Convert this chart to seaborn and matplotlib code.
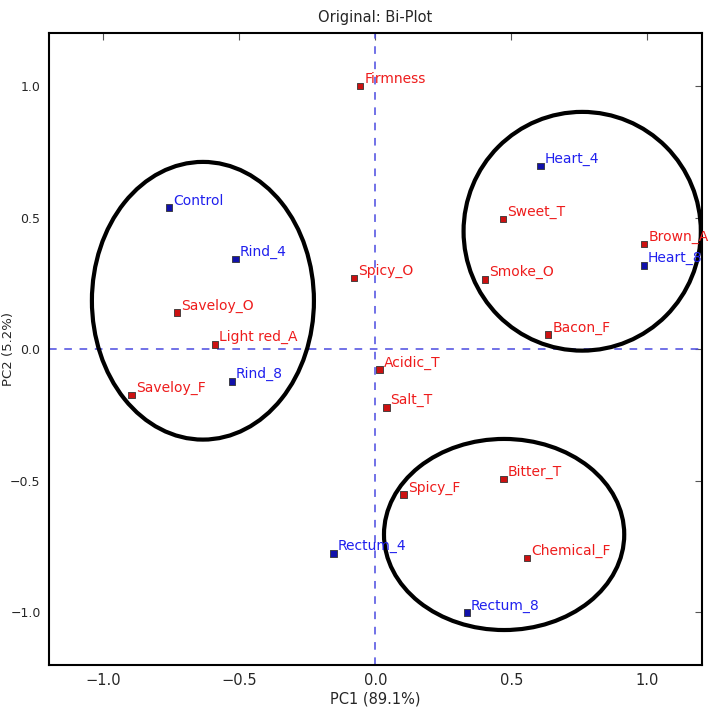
import matplotlib
matplotlib.use("Agg")
import matplotlib.pyplot as plt
from matplotlib.patches import Ellipse
import seaborn as sns
import pandas as pd

# ---- data ----
names = ["Firmness", "Control", "Rind_4", "Saveloy_O", "Light red_A", "Rind_8",
         "Saveloy_F", "Spicy_O", "Acidic_T", "Salt_T", "Heart_4", "Sweet_T",
         "Smoke_O", "Bacon_F", "Brown_A", "Heart_8", "Bitter_T", "Spicy_F",
         "Rectum_4", "Chemical_F", "Rectum_8"]
pc1 = [-0.056, -0.758, -0.514, -0.729, -0.590, -0.528,
       -0.896, -0.079, 0.015, 0.040, 0.606, 0.469,
       0.403, 0.635, 0.988, 0.987, 0.470, 0.104,
       -0.154, 0.557, 0.336]
pc2 = [1.000, 0.538, 0.343, 0.139, 0.018, -0.122,
       -0.174, 0.271, -0.078, -0.221, 0.696, 0.495,
       0.265, 0.055, 0.399, 0.318, -0.493, -0.553,
       -0.776, -0.794, -1.001]
kind = ["attribute", "sample", "sample", "attribute", "attribute", "sample",
        "attribute", "attribute", "attribute", "attribute", "sample", "attribute",
        "attribute", "attribute", "attribute", "sample", "attribute", "attribute",
        "sample", "attribute", "sample"]
xticks = [-1.0, -0.5, 0.0, 0.5, 1.0]
yticks = [-1.0, -0.5, 0.0, 0.5, 1.0]
title = "Original: Bi-Plot"
xlabel = "PC1 (89.1%)"
ylabel = "PC2 (5.2%)"

df = pd.DataFrame({"name": names, "PC1": pc1, "PC2": pc2, "kind": kind})

sns.set_style("white")
plt.rcParams["font.family"] = ["DejaVu Sans"]

fig = plt.figure(figsize=(7.09, 7.09), dpi=100)
ax = fig.add_axes([0.069, 0.062, 0.921, 0.891])

ax.axhline(0, color="#4a4ae0", ls=(0, (5, 5)), lw=1.1, zorder=1)
ax.axvline(0, color="#4a4ae0", ls=(0, (5, 5)), lw=1.1, zorder=1)

palette = {"attribute": "#cc1111", "sample": "#1111aa"}
sns.scatterplot(data=df, x="PC1", y="PC2", hue="kind", palette=palette,
                marker="s", s=22, edgecolor="#333333", linewidth=0.6,
                legend=False, ax=ax, zorder=3)

text_colors = {"attribute": "#ee1c1c", "sample": "#2020ee"}
for n, x, y, k in zip(names, pc1, pc2, kind):
    ax.annotate(n, (x, y), xytext=(3, 0), textcoords="offset points",
                ha="left", va="bottom", fontsize=10, color=text_colors[k],
                zorder=4)

# group ellipses
for (cx, cy, w, h) in [(-0.634, 0.184, 0.816, 1.055),
                       (0.760, 0.448, 0.872, 0.907),
                       (0.473, -0.704, 0.883, 0.726)]:
    ax.add_patch(Ellipse((cx, cy), w, h, fill=False, ec="black", lw=3,
                         zorder=2))

ax.set_xlim(-1.2, 1.2)
ax.set_ylim(-1.2, 1.2)
ax.set_xticks(xticks)
ax.set_yticks(yticks)
ax.set_xticklabels([f"{t:.1f}".replace("-", "\u2212") for t in xticks],
                   family=["Liberation Sans Narrow", "DejaVu Sans"], fontsize=10.5)
ax.set_yticklabels([f"{t:.1f}".replace("-", "\u2212") for t in yticks], fontsize=9)
ax.tick_params(direction="in", length=5, width=0.8, top=True, right=True,
               color="#555555", pad=6)
for sp in ax.spines.values():
    sp.set_color("black")
    sp.set_linewidth(1.5)

ax.set_title(title, family=["Liberation Sans Narrow", "DejaVu Sans"],
             fontsize=10.5, pad=8)
ax.set_xlabel(xlabel, family=["Liberation Sans Narrow", "DejaVu Sans"],
              fontsize=10.5, labelpad=2)
ax.set_ylabel(ylabel, fontsize=9.5)
ax.yaxis.set_label_coords(-0.052, 0.5)

fig.savefig("out.png", dpi=100)
